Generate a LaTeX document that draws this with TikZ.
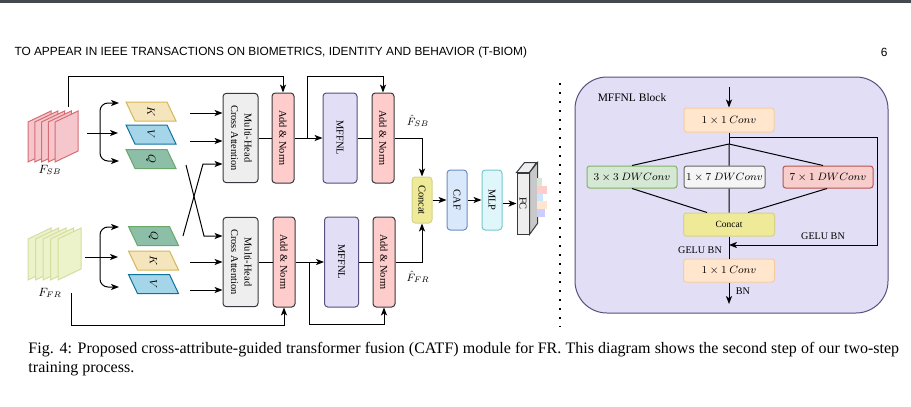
\documentclass[tikz,border=0pt]{standalone}
\usepackage{fontspec}
\setmainfont{Liberation Serif}
\newfontfamily\headfont{Liberation Sans}
\usepackage{graphicx}
\usetikzlibrary{arrows.meta,calc}

\definecolor{topbar}{RGB}{69,73,78}
\definecolor{sbFill}{RGB}{245,199,204}
\definecolor{sbLine}{RGB}{214,108,116}
\definecolor{frFill}{RGB}{236,242,201}
\definecolor{frLine}{RGB}{214,221,160}
\definecolor{kFill}{RGB}{245,229,188}
\definecolor{kLine}{RGB}{214,182,86}
\definecolor{vFill}{RGB}{165,213,232}
\definecolor{vLine}{RGB}{16,115,158}
\definecolor{qFill}{RGB}{141,190,168}
\definecolor{qLine}{RGB}{106,168,106}
\definecolor{boxLine}{RGB}{54,57,61}
\definecolor{grayFill}{RGB}{238,238,238}
\definecolor{pinkFill}{RGB}{255,204,204}
\definecolor{lavFill}{RGB}{225,222,245}
\definecolor{lavLine}{RGB}{86,81,126}
\definecolor{catFill}{RGB}{238,234,152}
\definecolor{catLine}{RGB}{214,210,140}
\definecolor{cafFill}{RGB}{218,232,252}
\definecolor{cafLine}{RGB}{108,142,191}
\definecolor{mlpFill}{RGB}{223,246,250}
\definecolor{mlpLine}{RGB}{120,200,205}
\definecolor{fcSide}{RGB}{200,200,200}
\definecolor{barGreen}{RGB}{213,232,212}
\definecolor{barBlue}{RGB}{204,229,255}
\definecolor{barPeach}{RGB}{255,230,204}
\definecolor{barLilac}{RGB}{204,204,255}
\definecolor{convFill}{RGB}{255,230,204}
\definecolor{convLine}{RGB}{247,205,160}
\definecolor{dwaFill}{RGB}{213,232,212}
\definecolor{dwaLine}{RGB}{130,179,102}
\definecolor{dwbFill}{RGB}{245,245,245}
\definecolor{dwbLine}{RGB}{102,102,102}
\definecolor{dwcFill}{RGB}{248,206,204}
\definecolor{dwcLine}{RGB}{184,84,80}

\newcommand{\vtxt}[1]{\rotatebox{-90}{#1}}
\newcommand{\parashape}[3]{\draw [#3] (#1-25,#2-9.5) -- (#1+16,#2-9.5) -- (#1+25,#2+9.5) -- (#1-16,#2+9.5) -- cycle ;}

\tikzset{every picture/.style={line width=0.75pt}}
\tikzset{
  arr/.style={-{Stealth[length=6pt,width=4.6pt,inset=1.6pt]}},
  blk/.style={draw=boxLine, rounded corners=2.5pt, inner sep=0pt, font=\fontsize{7.8}{10}\selectfont},
  mhca/.style={blk, fill=grayFill, minimum width=26.25pt, minimum height=67pt},
  addnorm/.style={blk, fill=pinkFill, minimum width=16.5pt, minimum height=67.5pt},
  mffnl/.style={blk, draw=lavLine, fill=lavFill, minimum width=25.5pt, minimum height=67.5pt},
  slim/.style={blk, minimum width=15pt, minimum height=45pt},
  paratxt/.style={inner sep=0.75pt, font=\fontsize{7.8}{10}\selectfont},
  rbox/.style={draw, rounded corners=2pt, inner sep=0pt, minimum height=16.5pt, font=\fontsize{7.6}{9}\selectfont},
  lbl/.style={inner sep=0.75pt, font=\fontsize{7.6}{9}\selectfont},
}

\begin{document}
\begin{tikzpicture}[x=0.75pt,y=0.75pt,yscale=-1,xscale=1]
\useasboundingbox (0,0) rectangle (911,407);

%Shape: Rectangle
\fill [topbar] (0,0) rectangle (911,2.5);
% Text Node
\draw (14,52) node [anchor=west][inner sep=0pt] (head) {\headfont\fontsize{8.9}{10}\selectfont TO APPEAR IN IEEE TRANSACTIONS ON BIOMETRICS, IDENTITY AND BEHAVIOR (T-BIOM)};
% Text Node
\draw (888,52) node [anchor=east][inner sep=0pt] (pageno) {\headfont\fontsize{8.9}{10}\selectfont 6};

%Shape: Sheets F_SB
\draw [sbLine, fill=sbFill] (28,122) -- (51,111) -- (51,151) -- (28,162) -- cycle ;
\draw [sbLine, fill=sbFill] (34.75,122) -- (57.75,111) -- (57.75,151) -- (34.75,162) -- cycle ;
\draw [sbLine, fill=sbFill] (41.5,122) -- (64.5,111) -- (64.5,151) -- (41.5,162) -- cycle ;
\draw [sbLine, fill=sbFill] (48.25,122) -- (71.25,111) -- (71.25,151) -- (48.25,162) -- cycle ;
\draw [sbLine, fill=sbFill] (55,122) -- (78,111) -- (78,151) -- (55,162) -- cycle ;
%Shape: Sheets F_FR
\draw [frLine, fill=frFill] (28,239) -- (51,228) -- (51,269) -- (28,280) -- cycle ;
\draw [frLine, fill=frFill] (35.5,239) -- (58.5,228) -- (58.5,269) -- (35.5,280) -- cycle ;
\draw [frLine, fill=frFill] (43,239) -- (66,228) -- (66,269) -- (43,280) -- cycle ;
\draw [frLine, fill=frFill] (50.5,239) -- (73.5,228) -- (73.5,269) -- (50.5,280) -- cycle ;
\draw [frLine, fill=frFill] (58,239) -- (81,228) -- (81,269) -- (58,280) -- cycle ;

% Text Node
\draw (50,170) node [inner sep=0.75pt, font=\fontsize{8.6}{10}\selectfont] (fsb) {$F_{SB}$};
\draw (50,293) node [inner sep=0.75pt, font=\fontsize{8.6}{10}\selectfont] (ffr) {$F_{FR}$};

%Shape: Parallelograms
\parashape{151}{111.5}{kLine, fill=kFill}
\parashape{151}{134.5}{vLine, fill=vFill}
\parashape{151}{159}{qLine, fill=qFill}
\parashape{153.5}{236}{qLine, fill=qFill}
\parashape{153.5}{260.5}{kLine, fill=kFill}
\parashape{153.5}{284}{vLine, fill=vFill}
% Text Node
\draw (151,111.5) node [paratxt] (kSB) {\vtxt{$K$}};
\draw (151,134.5) node [paratxt] (vSB) {\vtxt{$V$}};
\draw (151,159) node [paratxt] (qSB) {\vtxt{$Q$}};
\draw (153.5,236) node [paratxt] (qFR) {\vtxt{$Q$}};
\draw (153.5,260.5) node [paratxt] (kFR) {\vtxt{$K$}};
\draw (153.5,284) node [paratxt] (vFR) {\vtxt{$V$}};

%Shape: Blocks
\draw (240.5,138) node [mhca] (mhcaSB) {\vtxt{\begin{tabular}{@{}c@{}}Multi-Head\\Cross Attention\end{tabular}}};
\draw (283,138) node [addnorm] (anSB1) {\vtxt{Add \& Norm}};
\draw (340,138) node [mffnl] (mffnlSB) {\vtxt{MFFNL}};
\draw (383,138) node [addnorm] (anSB2) {\vtxt{Add \& Norm}};
\draw (240.5,262) node [mhca] (mhcaFR) {\vtxt{\begin{tabular}{@{}c@{}}Multi-Head\\Cross Attention\end{tabular}}};
\draw (284,262) node [addnorm] (anFR1) {\vtxt{Add \& Norm}};
\draw (341.5,262) node [mffnl] (mffnlFR) {\vtxt{MFFNL}};
\draw (384,262) node [addnorm] (anFR2) {\vtxt{Add \& Norm}};
\draw (422,200) node [slim, draw=catLine, fill=catFill, minimum height=34.5pt] (concat) {\vtxt{Concat}};
\draw (457,200) node [slim, draw=cafLine, fill=cafFill] (caf) {\vtxt{CAF}};
\draw (492,200) node [slim, draw=mlpLine, fill=mlpFill] (mlp) {\vtxt{MLP}};

%Shape: Cube FC
\draw (523,203.5) node [draw=boxLine, fill=grayFill, inner sep=0pt, minimum width=9pt, minimum height=45.75pt, font=\fontsize{7.8}{10}\selectfont] (fc) {\vtxt{FC}};
\draw [boxLine, fill=grayFill] (fc.north west) -- ++(8,-10) -- ++(12,0) -- (fc.north east) -- cycle ;
\draw [boxLine, fill=fcSide] (fc.north east) -- ++(8,-10) -- ++(0,61) -- (fc.south east) -- cycle ;
\fill [barGreen] (537,178) rectangle (541.5,186) ;
\fill [pinkFill] (537,186) rectangle (547,193.5) ;
\fill [barBlue] (537,193.5) rectangle (543,201) ;
\fill [barPeach] (537,201) rectangle (547,209) ;
\fill [barLilac] (537,209) rectangle (545,217) ;

% Text Node
\draw (418,121) node [inner sep=0pt, font=\fontsize{8.2}{10}\selectfont] (hatSB) {$\hat{F}_{SB}$};
\draw (418,277) node [inner sep=0pt, font=\fontsize{8.2}{10}\selectfont] (hatFR) {$\hat{F}_{FR}$};

\coordinate (sbOut) at (87,133);
\coordinate (sbFork) at (100,133);
\coordinate (frOut) at (85,257);
\coordinate (frFork) at (100,257);
\coordinate (sbTap) at (68,107);
\coordinate (frTap) at (71,293);
\coordinate (kSBin) at (190,113);
\coordinate (vSBin) at (190,141);
\coordinate (qSBout) at (186,165);
\coordinate (xSBin) at (203,164);
\coordinate (qFRout) at (183,236);
\coordinate (xFRin) at (204,236);
\coordinate (kFRin) at (190,262);
\coordinate (vFRin) at (190,290);
\coordinate (tapSB) at (307,138);
\coordinate (tapFR) at (309,262);

%Straight Lines
\draw [arr] (sbOut) -- (118,133) ;
\draw [arr, rounded corners=6] (sbFork) |- (119,103) ;
\draw [arr, rounded corners=6] (sbFork) |- (119,161) ;
\draw [arr] (frOut) -- (118,257) ;
\draw [arr, rounded corners=6] (frFork) |- (119,227) ;
\draw [arr, rounded corners=6] (frFork) |- (119,287) ;

\draw [arr] (kSBin) -- (kSBin -| mhcaSB.west) ;
\draw [arr] (vSBin) -- (vSBin -| mhcaSB.west) ;
\draw [arr] (qFRout) -- (xSBin) -- (xSBin -| mhcaSB.west) ;
\draw [arr] (qSBout) -- (xFRin) -- (xFRin -| mhcaFR.west) ;
\draw [arr] (kFRin) -- (kFRin -| mhcaFR.west) ;
\draw [arr] (vFRin) -- (vFRin -| mhcaFR.west) ;

\draw (mhcaSB) -- (anSB1) ;
\draw [arr] (anSB1) -- (mffnlSB) ;
\draw (mffnlSB) -- (anSB2) ;
\draw [arr] (anSB2.east) -| (concat.north) ;
\draw [arr] (sbTap) -- (68,76.5) -| (anSB1.north) ;
\draw [arr] (tapSB) -- (307,76.5) -| (anSB2.north) ;

\draw (mhcaFR) -- (anFR1) ;
\draw [arr] (anFR1) -- (mffnlFR) ;
\draw (mffnlFR) -- (anFR2) ;
\draw [arr] (anFR2.east) -| (concat.south) ;
\draw [arr] (frTap) -- (71,325) -| (anFR1.south) ;
\draw [arr] (tapFR) -- (309,324) -| (anFR2.south) ;

\draw [arr] (concat) -- (caf) ;
\draw [arr] (caf) -- (mlp) ;
\draw [arr] (mlp.east |- fc) -- (fc.west) ;

%Dotted Line
\draw [line width=1.5pt, dash pattern=on 1.5pt off 5.25pt] (560,83) -- (560,327) ;

%Shape: Rounded Rectangle
\draw [lavLine, fill=lavFill, rounded corners=24pt] (575,77) rectangle (888,313) ;
% Text Node
\draw (632,98) node [inner sep=0.75pt, font=\fontsize{8.6}{10}\selectfont] (title) {MFFNL Block};

\draw (729,120) node [rbox, draw=convLine, fill=convFill, minimum width=67.5pt, minimum height=18pt] (conv1) {$1\times 1$ $Conv$};
\draw (632,177) node [rbox, draw=dwaLine, fill=dwaFill, minimum width=67.5pt] (dw3) {$3\times 3$ $DWConv$};
\draw (724.5,177) node [rbox, draw=dwbLine, fill=dwbFill, minimum width=60.75pt] (dw17) {$1\times 7$ $DWConv$};
\draw (828,177) node [rbox, draw=dwcLine, fill=dwcFill, minimum width=67.5pt] (dw71) {$7\times 1$ $DWConv$};
\draw (729,224.5) node [rbox, draw=catLine, fill=catFill, minimum width=68.25pt, minimum height=17.25pt, font=\fontsize{7.1}{9}\selectfont] (catR) {Concat};
\draw (729,270.5) node [rbox, draw=convLine, fill=convFill, minimum width=68.25pt, minimum height=17.25pt] (conv2) {$1\times 1$ $Conv$};

\coordinate (inR) at (729,87);
\coordinate (brR) at (729,137);
\coordinate (splitR) at (729,144);
\coordinate (joinR) at (729,245);
\coordinate (outR) at (729,304);

\draw [arr] (inR) -- (conv1) ;
\draw (conv1) -- (splitR) ;
\draw (splitR) -- (dw3.north) (splitR) -- (dw17.north -| splitR) (splitR) -- ($(dw71.north)+(-5,0)$) ;
\draw (dw3.south) -- ($(catR.north)+(-22,0)$) (dw17.south -| catR.north) -- (catR.north) ($(dw71.south)+(-1,0)$) -- ($(catR.north)+(19,0)$) ;
\draw (catR) -- (conv2) ;
\draw [arr] (brR) -| (877,245) -- (joinR) ;
\draw [arr] (conv2) -- (outR) ;

% Text Node
\draw (823,236) node [lbl] (geluA) {GELU BN};
\draw (700,250) node [lbl] (geluB) {GELU BN};
\draw (743,291) node [lbl] (bnR) {BN};

% Text Node
\draw (28,350) node [anchor=west][inner sep=0pt] (capA) {\fontsize{12}{15}\selectfont\makebox[653pt][s]{Fig. 4: Proposed cross-attribute-guided transformer fusion (CATF) module for FR. This diagram shows the second step of our two-step}};
\draw (28,369) node [anchor=west][inner sep=0pt] (capB) {\fontsize{12}{15}\selectfont training process.};

\end{tikzpicture}
\end{document}
